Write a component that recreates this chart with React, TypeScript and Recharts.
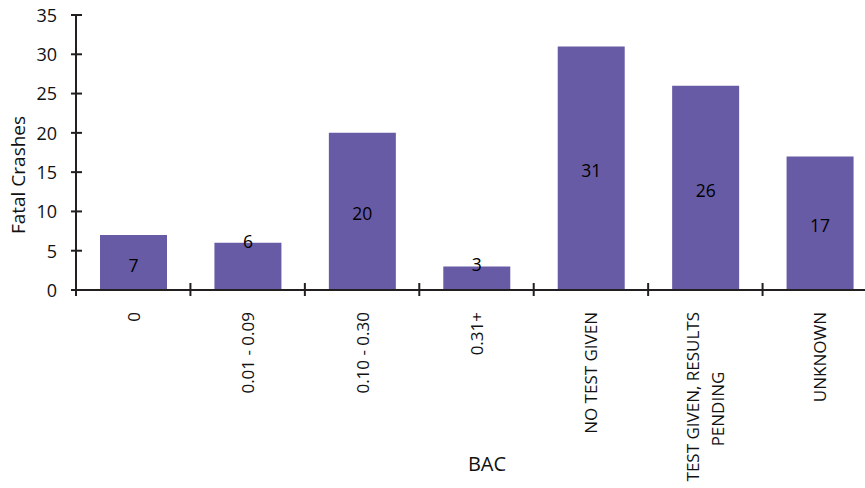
import { BarChart, Bar, XAxis, YAxis, LabelList } from "recharts";

const categories = [
  "0",
  "0.01 - 0.09",
  "0.10 - 0.30",
  "0.31+",
  "NO TEST GIVEN",
  "TEST GIVEN, RESULTS PENDING",
  "UNKNOWN",
];
const crashes = [7, 6, 20, 3, 31, 26, 17];
const yTicks = [0, 5, 10, 15, 20, 25, 30, 35];

const data = categories.map((bac, i) => ({ bac, crashes: crashes[i] }));

const FONT = "'Open Sans', sans-serif";
const AXIS = "#231f20";
const INK = "#111";
const BAR = "#685ba6";
const PLOT_W = 801;
const HALF_BAND = PLOT_W / categories.length / 2;

// wrap long category names the way the original axis does
const wrap = (s: string, max = 20) => {
  const lines: string[] = [];
  let cur = "";
  s.split(" ").forEach((w) => {
    if (cur && (cur + " " + w).length > max) {
      lines.push(cur);
      cur = w;
    } else cur = cur ? cur + " " + w : w;
  });
  lines.push(cur);
  return lines;
};

const YTick = ({ x, y, payload }: any) => (
  <g>
    <line x1={x - 5} x2={x + 6} y1={y} y2={y} stroke={AXIS} strokeWidth={2} />
    <text x={x - 19} y={y} dy="0.38em" textAnchor="end" fontSize={18} fontFamily={FONT} fill={INK}>
      {payload.value}
    </text>
  </g>
);

const XTick = ({ x, y, payload }: any) => {
  const lines = wrap(payload.value);
  const top = y + 22;
  const first = x - ((lines.length - 1) / 2) * 25;
  return (
    <g>
      <line x1={x - HALF_BAND} x2={x - HALF_BAND} y1={y - 7} y2={y + 6} stroke={AXIS} strokeWidth={2} />
      {lines.map((l, i) => {
        const lx = first + i * 25;
        // first line hangs from the axis, following lines are centred lower down
        const ly = i === 0 ? top : top + 97;
        return (
          <text
            key={i}
            x={lx}
            y={ly}
            transform={`rotate(-90, ${lx}, ${ly})`}
            textAnchor={i === 0 ? "end" : "middle"}
            dominantBaseline="central"
            fontSize={17}
            fontFamily={FONT}
            fill={INK}
          >
            {l}
          </text>
        );
      })}
    </g>
  );
};

const BarValue = ({ x, y, width, height, value }: any) => {
  const cy = height < 50 ? y - 2 : y + height / 2 + 2;
  return (
    <text
      x={x + width / 2}
      y={cy}
      textAnchor="middle"
      dominantBaseline="central"
      fontSize={17.5}
      fontFamily={FONT}
      fill="#000"
    >
      {value}
    </text>
  );
};

const YTitle = () => (
  <text
    x={18}
    y={175}
    transform="rotate(-90, 18, 175)"
    textAnchor="middle"
    dominantBaseline="central"
    fontSize={19}
    fontFamily={FONT}
    fill={INK}
  >
    Fatal Crashes
  </text>
);

const XTitle = () => (
  <text x={487} y={463} textAnchor="middle" dominantBaseline="central" fontSize={20} fontFamily={FONT} fill={INK}>
    BAC
  </text>
);

export default function App() {
  return (
    <div style={{ position: "absolute", left: 0, top: 0, width: 865, height: 488, overflow: "hidden", background: "#fff" }}>
      <BarChart
        width={878}
        height={488}
        data={data}
        margin={{ top: 15, right: 1, left: 0, bottom: 0 }}
        barSize={67}
      >
        <XAxis
          dataKey="bac"
          height={198}
          interval={0}
          tickSize={0}
          tickMargin={0}
          tickLine={false}
          axisLine={{ stroke: AXIS, strokeWidth: 2 }}
          tick={<XTick />}
          label={<XTitle />}
        />
        <YAxis
          width={76}
          domain={[0, 35]}
          ticks={yTicks}
          interval={0}
          tickSize={0}
          tickMargin={0}
          tickLine={false}
          axisLine={{ stroke: AXIS, strokeWidth: 2 }}
          tick={<YTick />}
          label={<YTitle />}
        />
        <Bar dataKey="crashes" fill={BAR} isAnimationActive={false}>
          <LabelList dataKey="crashes" content={<BarValue />} />
        </Bar>
      </BarChart>
    </div>
  );
}
